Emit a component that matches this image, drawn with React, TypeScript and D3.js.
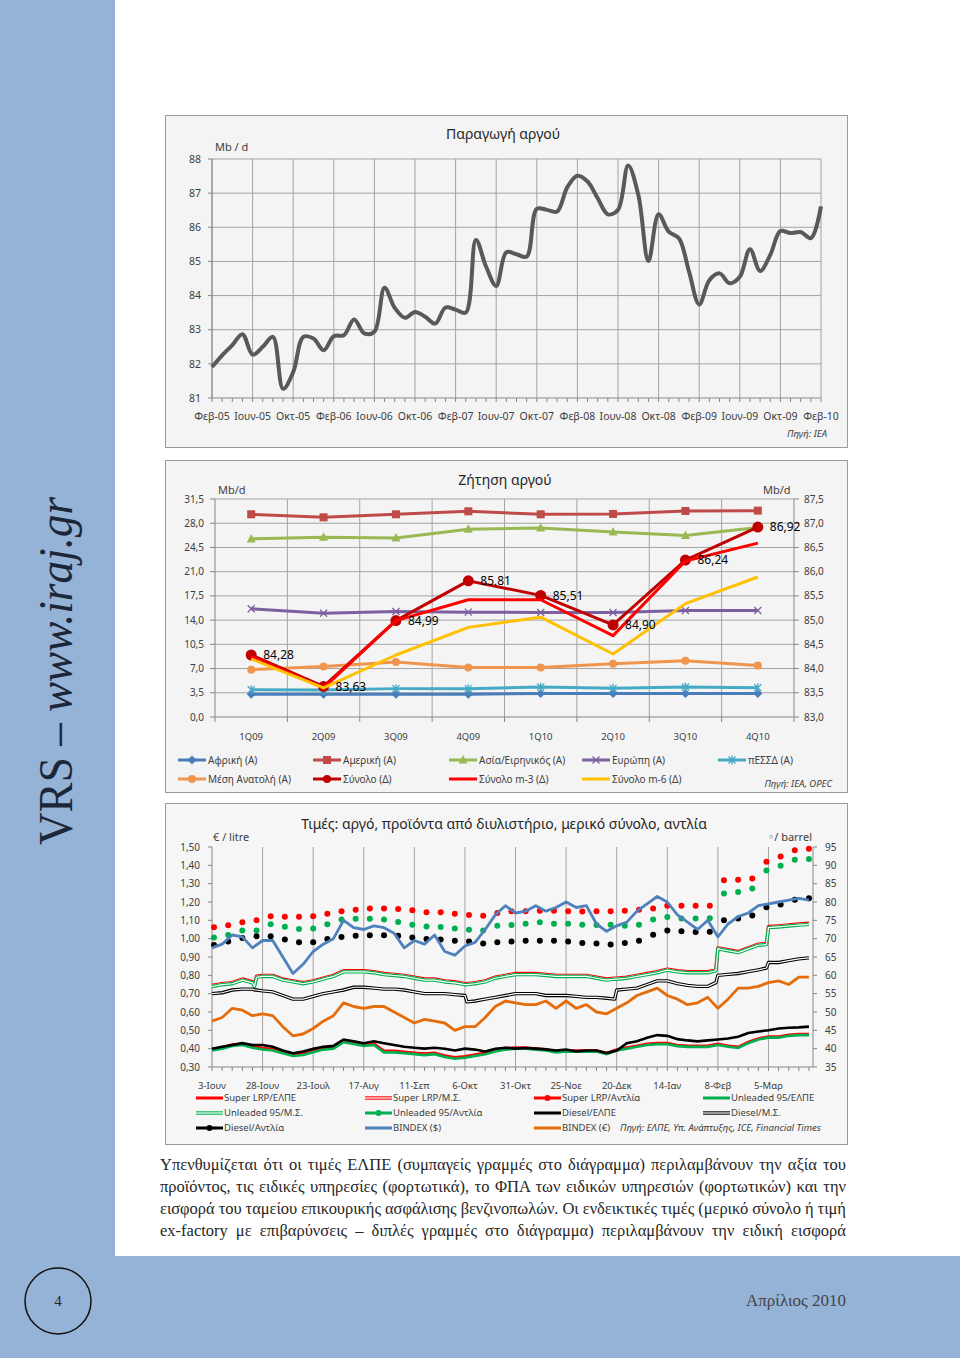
import { useLayoutEffect, useRef } from 'react';
import * as d3 from 'd3';

// ---------- Παραγωγή αργού (Mb/d, monthly Feb-05 .. Feb-10) ----------
const productionLabels = ['Φεβ-05', 'Ιουν-05', 'Οκτ-05', 'Φεβ-06', 'Ιουν-06', 'Οκτ-06', 'Φεβ-07', 'Ιουν-07', 'Οκτ-07', 'Φεβ-08', 'Ιουν-08', 'Οκτ-08', 'Φεβ-09', 'Ιουν-09', 'Οκτ-09', 'Φεβ-10'];
const production = [
  81.91, 82.25, 82.55, 82.87, 82.27, 82.5, 82.79, 81.27, 81.76, 82.79,
  82.74, 82.4, 82.81, 82.84, 83.3, 82.89, 82.94, 84.23, 83.64, 83.35,
  83.52, 83.38, 83.18, 83.65, 83.59, 83.5, 85.63, 84.85, 84.28, 85.27,
  85.21, 85.14, 86.54, 86.51, 86.46, 87.17, 87.51, 87.34, 86.85, 86.38,
  86.51, 87.81, 86.95, 85.01, 86.38, 85.87, 85.68, 84.7, 83.74, 84.45,
  84.65, 84.36, 84.55, 85.36, 84.72, 85.19, 85.89, 85.83, 85.86, 85.68,
  86.61,
];
const productionTicks = [81, 82, 83, 84, 85, 86, 87, 88];

// ---------- Ζήτηση αργού (Mb/d, quarterly) ----------
const quarters = ['1Q09', '2Q09', '3Q09', '4Q09', '1Q10', '2Q10', '3Q10', '4Q10'];
const africa = [3.3, 3.3, 3.3, 3.3, 3.4, 3.4, 3.4, 3.4];
const america = [29.29, 28.85, 29.29, 29.72, 29.29, 29.34, 29.77, 29.82];
const asia = [25.73, 25.97, 25.88, 27.12, 27.32, 26.74, 26.21, 27.37];
const europe = [15.63, 15.0, 15.25, 15.15, 15.1, 15.1, 15.39, 15.39];
const cis = [3.94, 3.9, 4.1, 4.1, 4.33, 4.14, 4.33, 4.23];
const middleEast = [6.83, 7.31, 7.94, 7.17, 7.17, 7.69, 8.13, 7.45];
const total = [84.28, 83.63, 84.99, 85.81, 85.51, 84.9, 86.24, 86.92];
const totalM3 = [84.25, 83.6, 84.99, 85.42, 85.42, 84.68, 86.22, 86.59];
const totalM6 = [84.2, 83.6, 84.28, 84.85, 85.06, 84.3, 85.34, 85.89];
const demandLeftTicks = [0, 3.5, 7, 10.5, 14, 17.5, 21, 24.5, 28, 31.5];
const demandRightTicks = [83, 83.5, 84, 84.5, 85, 85.5, 86, 86.5, 87, 87.5];

// ---------- Τιμές (days from 3 Jun 2009) ----------
const priceDateLabels = ['3-Ιουν', '28-Ιουν', '23-Ιουλ', '17-Αυγ', '11-Σεπ', '6-Οκτ', '31-Οκτ', '25-Νοε', '20-Δεκ', '14-Ιαν', '8-Φεβ', '5-Μαρ'];
const priceLabelDays = [0, 25, 50, 75, 100, 125, 150, 175, 200, 225, 250, 275];
const priceLeftTicks = [0.3, 0.4, 0.5, 0.6, 0.7, 0.8, 0.9, 1.0, 1.1, 1.2, 1.3, 1.4, 1.5];
const priceRightTicks = [35, 40, 45, 50, 55, 60, 65, 70, 75, 80, 85, 90, 95];

const lineDays = [
  0, 5, 10, 15, 20, 25, 30, 35, 40, 45, 50, 55, 60, 65, 70, 75, 80, 85, 90, 95,
  100, 105, 110, 115, 120, 125, 130, 135, 140, 145, 150, 155, 160, 165, 170, 175, 180, 185, 190, 195,
  200, 205, 210, 215, 220, 225, 230, 235, 240, 245, 250, 255, 260, 265, 270, 275, 280, 285, 290, 295,
];
const bindexUsd = [
  67.5, 68.5, 71, 70.5, 67.5, 69.5, 69.5, 65, 60.5, 63, 66.5, 68.5, 70, 75, 73, 72.5, 73.5, 73, 71.5, 67.5,
  69.5, 68.5, 71, 66.5, 65.5, 68, 69, 72.5, 76.5, 79, 77, 77.5, 79, 77.5, 78.5, 80, 78.5, 79, 74, 72,
  73.5, 74.5, 77.5, 79.5, 81.5, 80, 76.5, 74.5, 72.5, 75, 70.5, 74, 76, 77, 79, 79.5, 80, 80.5, 81, 80.5,
];
const bindexEur = [
  47.5, 48.5, 51, 50.5, 49, 49.5, 49, 46, 43.5, 44, 45.5, 47.5, 49, 52.5, 51.5, 51, 51.5, 51.5, 50, 48.5,
  47, 48, 47.5, 47, 45, 46, 46, 48.5, 51.5, 53, 52.5, 52, 52, 53, 51, 53, 51, 52, 50, 49.5,
  51, 52.5, 54.5, 55.5, 56.5, 54.5, 53.5, 52, 52.5, 54, 51, 53.5, 56.5, 56.5, 57, 58, 58.5, 57.5, 59.5, 59.5,
];
const dieselElpe = [
  0.4, 0.41, 0.42, 0.43, 0.42, 0.42, 0.41, 0.39, 0.375, 0.385, 0.4, 0.41, 0.415, 0.45, 0.44, 0.43, 0.44, 0.43, 0.42, 0.41,
  0.405, 0.4, 0.405, 0.4, 0.39, 0.4, 0.395, 0.385, 0.4, 0.405, 0.4, 0.404, 0.4, 0.396, 0.39, 0.395, 0.385, 0.39, 0.39, 0.376,
  0.39, 0.43, 0.44, 0.46, 0.474, 0.47, 0.452, 0.445, 0.44, 0.445, 0.45, 0.455, 0.465, 0.485, 0.494, 0.5, 0.51, 0.514, 0.516, 0.52,
];
const unleadedElpe = [
  0.39, 0.4, 0.415, 0.42, 0.405, 0.395, 0.39, 0.375, 0.36, 0.365, 0.38, 0.395, 0.4, 0.435, 0.425, 0.415, 0.42, 0.38, 0.38, 0.375,
  0.37, 0.365, 0.37, 0.355, 0.345, 0.35, 0.36, 0.37, 0.385, 0.395, 0.4, 0.4, 0.395, 0.39, 0.38, 0.385, 0.384, 0.384, 0.384, 0.37,
  0.39, 0.4, 0.41, 0.42, 0.424, 0.424, 0.414, 0.41, 0.41, 0.41, 0.42, 0.41, 0.404, 0.43, 0.45, 0.46, 0.46, 0.47, 0.474, 0.474,
];
const superElpe = [
  0.398, 0.408, 0.422, 0.428, 0.413, 0.403, 0.398, 0.383, 0.368, 0.373, 0.388, 0.403, 0.408, 0.443, 0.433, 0.423, 0.428, 0.388, 0.388, 0.383,
  0.378, 0.373, 0.378, 0.363, 0.353, 0.358, 0.368, 0.378, 0.393, 0.403, 0.406, 0.406, 0.401, 0.396, 0.386, 0.391, 0.39, 0.39, 0.39, 0.376,
  0.396, 0.406, 0.416, 0.426, 0.43, 0.43, 0.42, 0.416, 0.416, 0.416, 0.426, 0.416, 0.41, 0.436, 0.456, 0.466, 0.466, 0.476, 0.48, 0.48,
];

const msDays = [
  0, 5, 10, 15, 20, 21, 22, 25, 30, 35, 40, 45, 50, 55, 60, 65, 70, 75, 80, 85, 90, 95, 100, 105, 110, 115, 120, 125, 126,
  130, 135, 140, 145, 150, 155, 160, 165, 170, 175, 180, 185, 190, 195, 199, 200, 205, 210, 215, 220, 225, 230, 235, 240, 245,
  249, 250, 255, 260, 265, 270, 274, 275, 280, 285, 290, 295,
];
const superMs = [
  0.745, 0.755, 0.76, 0.78, 0.765, 0.745, 0.795, 0.8, 0.8, 0.78, 0.77, 0.76, 0.77, 0.785, 0.8, 0.825, 0.825, 0.825, 0.82, 0.81,
  0.805, 0.8, 0.79, 0.78, 0.78, 0.77, 0.765, 0.755, 0.755, 0.76, 0.77, 0.79, 0.8, 0.81, 0.81, 0.81, 0.805, 0.8, 0.8, 0.8,
  0.8, 0.79, 0.78, 0.785, 0.785, 0.79, 0.8, 0.81, 0.82, 0.834, 0.825, 0.82, 0.82, 0.82, 0.83, 0.95, 0.94, 0.93, 0.95, 0.97,
  0.974, 1.066, 1.07, 1.075, 1.08, 1.084,
];
const unleadedMs = [
  0.739, 0.749, 0.754, 0.774, 0.759, 0.739, 0.789, 0.794, 0.794, 0.774, 0.764, 0.754, 0.764, 0.779, 0.794, 0.819, 0.819, 0.819, 0.814, 0.804,
  0.799, 0.794, 0.784, 0.774, 0.774, 0.764, 0.759, 0.749, 0.749, 0.754, 0.764, 0.784, 0.794, 0.804, 0.804, 0.804, 0.799, 0.794, 0.794, 0.794,
  0.794, 0.784, 0.774, 0.779, 0.779, 0.784, 0.794, 0.804, 0.814, 0.828, 0.819, 0.814, 0.814, 0.814, 0.824, 0.944, 0.934, 0.924, 0.944, 0.964,
  0.968, 1.06, 1.064, 1.069, 1.074, 1.078,
];
const dieselMs = [
  0.7, 0.705, 0.72, 0.725, 0.725, 0.72, 0.72, 0.715, 0.71, 0.69, 0.67, 0.67, 0.685, 0.7, 0.71, 0.72, 0.735, 0.735, 0.73, 0.725,
  0.725, 0.72, 0.71, 0.7, 0.7, 0.7, 0.695, 0.69, 0.655, 0.66, 0.67, 0.68, 0.69, 0.7, 0.7, 0.7, 0.69, 0.69, 0.69, 0.685,
  0.68, 0.68, 0.675, 0.67, 0.72, 0.725, 0.73, 0.75, 0.77, 0.77, 0.755, 0.745, 0.74, 0.74, 0.76, 0.8, 0.805, 0.81, 0.82, 0.83,
  0.84, 0.87, 0.87, 0.88, 0.89, 0.895,
];

const pumpDays = [
  1, 8, 15, 22, 29, 36, 43, 50, 57, 64, 71, 78, 85, 92, 99, 106, 113, 120, 127, 134, 141,
  148, 155, 162, 169, 176, 183, 190, 197, 204, 211, 218, 225, 232, 239, 246, 253, 260, 267, 274, 281, 288, 295,
];
const superPump = [
  1.062, 1.073, 1.09, 1.1, 1.122, 1.12, 1.12, 1.122, 1.136, 1.149, 1.158, 1.164, 1.164, 1.162, 1.155, 1.144, 1.144, 1.136, 1.129, 1.125, 1.14,
  1.15, 1.15, 1.152, 1.152, 1.15, 1.148, 1.15, 1.15, 1.152, 1.158, 1.164, 1.18, 1.18, 1.18, 1.18, 1.318, 1.322, 1.328, 1.42, 1.448, 1.482, 1.49,
];
const unleadedPump = [
  1.007, 1.02, 1.045, 1.045, 1.078, 1.065, 1.053, 1.055, 1.078, 1.104, 1.109, 1.109, 1.104, 1.091, 1.076, 1.067, 1.064, 1.055, 1.049, 1.045, 1.071,
  1.074, 1.082, 1.09, 1.082, 1.082, 1.076, 1.074, 1.076, 1.07, 1.076, 1.104, 1.118, 1.11, 1.11, 1.112, 1.246, 1.254, 1.274, 1.372, 1.398, 1.43, 1.434,
];
const dieselPump = [
  0.965, 0.985, 1.004, 1.013, 1.013, 0.995, 0.98, 0.98, 0.998, 1.009, 1.016, 1.018, 1.018, 1.016, 1.007, 0.998, 0.995, 0.989, 0.985, 0.973, 0.98,
  0.984, 0.988, 0.988, 0.988, 0.984, 0.976, 0.973, 0.968, 0.976, 0.988, 1.022, 1.044, 1.04, 1.036, 1.038, 1.1, 1.11, 1.126, 1.172, 1.186, 1.212, 1.22,
];

const paragraph = [
  'Υπενθυμίζεται ότι οι τιμές ΕΛΠΕ (συμπαγείς γραμμές στο διάγραμμα) περιλαμβάνουν την αξία του',
  'προϊόντος, τις ειδικές υπηρεσίες (φορτωτικά), το ΦΠΑ των ειδικών υπηρεσιών (φορτωτικών) και την',
  'εισφορά του ταμείου επικουρικής ασφάλισης βενζινοπωλών. Οι ενδεικτικές τιμές (μερικό σύνολο ή τιμή',
  'ex-factory με επιβαρύνσεις – διπλές γραμμές στο διάγραμμα) περιλαμβάνουν την ειδική εισφορά',
];

const FONT = "'Noto Sans', 'DejaVu Sans', sans-serif";
const SERIF = "'Liberation Serif', 'DejaVu Serif', serif";
const GRID = '#a3a3a3';
const AXIS = '#868686';
const TXT = '#404040';
const comma = (v: number, d: number) => v.toFixed(d).replace('.', ',');

function ProductionChart() {
  const x = d3.scaleLinear().domain([0, production.length - 1]).range([212, 821]);
  const y = d3.scaleLinear().domain([81, 88]).range([398, 159]);
  const line = d3
    .line<number>()
    .x((_, i) => x(i))
    .y(d => y(d))
    .curve(d3.curveCatmullRom.alpha(0.5));
  return (
    <g fontFamily={FONT}>
      <rect x={165.5} y={115.5} width={682} height={332} fill="#f4f4f4" stroke="#9a9a9a" />
      {productionTicks.slice(1).map(t => (
        <line key={t} x1={x(0)} x2={x(60)} y1={y(t)} y2={y(t)} stroke={GRID} />
      ))}
      {productionLabels.map((l, i) => (
        <line key={l} x1={x(i * 4)} x2={x(i * 4)} y1={y(88)} y2={y(81)} stroke={GRID} />
      ))}
      <line x1={x(0)} x2={x(60)} y1={y(81)} y2={y(81)} stroke={AXIS} />
      <line x1={x(0)} x2={x(0)} y1={y(88)} y2={y(81)} stroke={AXIS} />
      {production.map((_, i) => (
        <line key={i} x1={x(i)} x2={x(i)} y1={y(81)} y2={y(81) + 4} stroke={AXIS} />
      ))}
      {productionTicks.map(t => (
        <g key={t}>
          <line x1={x(0) - 4} x2={x(0)} y1={y(t)} y2={y(t)} stroke={AXIS} />
          <text x={201} y={y(t)} dy="0.35em" textAnchor="end" fontSize={10.5} fill={TXT}>{t}</text>
        </g>
      ))}
      {productionLabels.map((l, i) => (
        <text key={l} x={x(i * 4)} y={420} textAnchor="middle" fontSize={10.5} fill={TXT}>{l}</text>
      ))}
      <path d={line(production) ?? ''} fill="none" stroke="#595959" strokeWidth={4} strokeLinejoin="round" />
      <text x={503} y={139} textAnchor="middle" fontSize={14} fill="#262626">Παραγωγή αργού</text>
      <text x={215} y={151} fontSize={11} fill={TXT}>Mb / d</text>
      <text x={827} y={437} textAnchor="end" fontSize={9.5} fontStyle="italic" fill={TXT}>Πηγή: IEA</text>
    </g>
  );
}

type MarkerKind = 'diamond' | 'square' | 'triangle' | 'x' | 'star' | 'circle' | 'bigcircle' | 'none';

function Marker({ kind, cx, cy, color }: { kind: MarkerKind; cx: number; cy: number; color: string }) {
  if (kind === 'diamond') return <path d={`M${cx},${cy - 4.5}L${cx + 4.5},${cy}L${cx},${cy + 4.5}L${cx - 4.5},${cy}Z`} fill={color} />;
  if (kind === 'square') return <rect x={cx - 4} y={cy - 4} width={8} height={8} fill={color} />;
  if (kind === 'triangle') return <path d={`M${cx},${cy - 5}L${cx + 4.5},${cy + 3.5}L${cx - 4.5},${cy + 3.5}Z`} fill={color} />;
  if (kind === 'x')
    return <path d={`M${cx - 3.5},${cy - 3.5}L${cx + 3.5},${cy + 3.5}M${cx + 3.5},${cy - 3.5}L${cx - 3.5},${cy + 3.5}`} stroke={color} strokeWidth={1.3} />;
  if (kind === 'star')
    return (
      <path
        d={`M${cx - 3.5},${cy - 3.5}L${cx + 3.5},${cy + 3.5}M${cx + 3.5},${cy - 3.5}L${cx - 3.5},${cy + 3.5}M${cx},${cy - 4.5}L${cx},${cy + 4.5}`}
        stroke={color}
        strokeWidth={1.3}
      />
    );
  if (kind === 'circle') return <circle cx={cx} cy={cy} r={4} fill={color} />;
  if (kind === 'bigcircle') return <circle cx={cx} cy={cy} r={5.5} fill={color} />;
  return null;
}

function DemandChart() {
  const x = d3.scaleBand().domain(quarters).range([215, 794]);
  const cx = (q: string) => (x(q) ?? 0) + x.bandwidth() / 2;
  const yL = d3.scaleLinear().domain([0, 31.5]).range([717, 499]);
  const yR = d3.scaleLinear().domain([83, 87.5]).range([717, 499]);
  const series: { name: string; values: number[]; color: string; marker: MarkerKind; right: boolean; width: number }[] = [
    { name: 'Αφρική (Α)', values: africa, color: '#4a7ebb', marker: 'diamond', right: false, width: 3 },
    { name: 'Αμερική (Α)', values: america, color: '#be4b48', marker: 'square', right: false, width: 3 },
    { name: 'Ασία/Ειρηνικός (Α)', values: asia, color: '#98b954', marker: 'triangle', right: false, width: 3 },
    { name: 'Ευρώπη (Α)', values: europe, color: '#7d60a0', marker: 'x', right: false, width: 3 },
    { name: 'πΕΣΣΔ (Α)', values: cis, color: '#46aac5', marker: 'star', right: false, width: 3 },
    { name: 'Μέση Ανατολή (Α)', values: middleEast, color: '#f0954d', marker: 'circle', right: false, width: 3 },
    { name: 'Σύνολο (Δ)', values: total, color: '#c00000', marker: 'bigcircle', right: true, width: 3 },
    { name: 'Σύνολο m-3 (Δ)', values: totalM3, color: '#ff0000', marker: 'none', right: true, width: 3 },
    { name: 'Σύνολο m-6 (Δ)', values: totalM6, color: '#ffc000', marker: 'none', right: true, width: 3 },
  ];
  const legendPos = [
    [178, 760], [313, 760], [449, 760], [582, 760], [718, 760],
    [178, 779], [313, 779], [449, 779], [582, 779],
  ];
  return (
    <g fontFamily={FONT}>
      <rect x={165.5} y={460.5} width={682} height={332} fill="#f4f4f4" stroke="#9a9a9a" />
      {demandLeftTicks.slice(1).map(t => (
        <line key={t} x1={215} x2={794} y1={yL(t)} y2={yL(t)} stroke={GRID} />
      ))}
      {quarters.slice(1).map(q => (
        <line key={q} x1={x(q)} x2={x(q)} y1={499} y2={717} stroke={GRID} />
      ))}
      <line x1={215} x2={794} y1={717} y2={717} stroke={AXIS} />
      <line x1={215} x2={215} y1={499} y2={717} stroke={AXIS} />
      <line x1={794} x2={794} y1={499} y2={717} stroke={AXIS} />
      {quarters.map(q => (
        <line key={q} x1={x(q)} x2={x(q)} y1={717} y2={722} stroke={AXIS} />
      ))}
      <line x1={794} x2={794} y1={717} y2={722} stroke={AXIS} />
      {demandLeftTicks.map(t => (
        <g key={t}>
          <line x1={210} x2={215} y1={yL(t)} y2={yL(t)} stroke={AXIS} />
          <text x={204} y={yL(t)} dy="0.35em" textAnchor="end" fontSize={10} fill={TXT}>{comma(t, 1)}</text>
        </g>
      ))}
      {demandRightTicks.map(t => (
        <g key={t}>
          <line x1={794} x2={799} y1={yR(t)} y2={yR(t)} stroke={AXIS} />
          <text x={804} y={yR(t)} dy="0.35em" fontSize={10} fill={TXT}>{comma(t, 1)}</text>
        </g>
      ))}
      {quarters.map(q => (
        <text key={q} x={cx(q)} y={740} textAnchor="middle" fontSize={9.5} fill={TXT}>{q}</text>
      ))}
      {series.map(s => {
        const y = s.right ? yR : yL;
        const line = d3
          .line<number>()
          .x((_, i) => cx(quarters[i]))
          .y(d => y(d));
        return (
          <g key={s.name}>
            <path d={line(s.values) ?? ''} fill="none" stroke={s.color} strokeWidth={s.width} strokeLinejoin="round" />
            {s.values.map((v, i) => (
              <Marker key={i} kind={s.marker} cx={cx(quarters[i])} cy={y(v)} color={s.color} />
            ))}
          </g>
        );
      })}
      {total.map((v, i) => (
        <text key={i} x={cx(quarters[i]) + 12} y={yR(v)} dy="0.35em" fontSize={12} fill="#000">{comma(v, 2)}</text>
      ))}
      {series.map((s, i) => {
        const [lx, ly] = legendPos[i];
        return (
          <g key={s.name}>
            <line x1={lx} x2={lx + 28} y1={ly} y2={ly} stroke={s.color} strokeWidth={3} />
            <Marker kind={s.marker === 'bigcircle' ? 'circle' : s.marker} cx={lx + 14} cy={ly} color={s.color} />
            <text x={lx + 30} y={ly} dy="0.35em" fontSize={10} fill={TXT}>{s.name}</text>
          </g>
        );
      })}
      <text x={505} y={485} textAnchor="middle" fontSize={14} fill="#262626">Ζήτηση αργού</text>
      <text x={218} y={494} fontSize={11} fill={TXT}>Mb/d</text>
      <text x={763} y={494} fontSize={11} fill={TXT}>Mb/d</text>
      <text x={832} y={787} textAnchor="end" fontSize={9.5} fontStyle="italic" fill={TXT}>Πηγή: IEA, OPEC</text>
    </g>
  );
}

function PriceChart() {
  const x = d3.scaleLinear().domain([0, 297]).range([212, 813]);
  const yL = d3.scaleLinear().domain([0.3, 1.5]).range([1067, 847]);
  const yR = d3.scaleLinear().domain([35, 95]).range([1067, 847]);
  const mk = (days: number[], y: d3.ScaleLinear<number, number>) =>
    d3
      .line<number>()
      .x((_, i) => x(days[i]))
      .y(d => y(d));
  const daily = mk(lineDays, yL);
  const ms = mk(msDays, yL);
  const bindex = mk(lineDays, yR);
  const minorTicks = d3.range(0, 297, 5);
  const legend: { name: string; color: string; kind: 'solid' | 'double' | 'dot' }[] = [
    { name: 'Super LRP/ΕΛΠΕ', color: '#ff0000', kind: 'solid' },
    { name: 'Super LRP/Μ.Σ.', color: '#ff0000', kind: 'double' },
    { name: 'Super LRP/Αντλία', color: '#ff0000', kind: 'dot' },
    { name: 'Unleaded 95/ΕΛΠΕ', color: '#00b050', kind: 'solid' },
    { name: 'Unleaded 95/Μ.Σ.', color: '#00b050', kind: 'double' },
    { name: 'Unleaded 95/Αντλία', color: '#00b050', kind: 'dot' },
    { name: 'Diesel/ΕΛΠΕ', color: '#000000', kind: 'solid' },
    { name: 'Diesel/Μ.Σ.', color: '#000000', kind: 'double' },
    { name: 'Diesel/Αντλία', color: '#000000', kind: 'dot' },
    { name: 'BINDEX ($)', color: '#4f81bd', kind: 'solid' },
    { name: 'BINDEX (€)', color: '#e46c0a', kind: 'solid' },
  ];
  const legendX = [196, 365, 534, 703];
  const legendY = [1098, 1113, 1128];
  const doubleLine = (d: string, color: string, key: string) => (
    <g key={key}>
      <path d={d} fill="none" stroke={color} strokeWidth={3.4} strokeLinejoin="round" />
      <path d={d} fill="none" stroke="#ffffff" strokeWidth={1.2} strokeLinejoin="round" />
    </g>
  );
  return (
    <g fontFamily={FONT}>
      <rect x={165.5} y={803.5} width={682} height={341} fill="#f6f6f6" stroke="#9a9a9a" />
      {priceLabelDays.slice(1).map(d => (
        <line key={d} x1={x(d)} x2={x(d)} y1={847} y2={1067} stroke={GRID} />
      ))}
      <line x1={212} x2={813} y1={1067} y2={1067} stroke={AXIS} />
      <line x1={212} x2={212} y1={847} y2={1067} stroke={AXIS} />
      <line x1={813} x2={813} y1={847} y2={1067} stroke={AXIS} />
      {minorTicks.map(d => (
        <line key={d} x1={x(d)} x2={x(d)} y1={1067} y2={1071} stroke={AXIS} />
      ))}
      {priceLeftTicks.map(t => (
        <g key={t}>
          <line x1={208} x2={212} y1={yL(t)} y2={yL(t)} stroke={AXIS} />
          <text x={200} y={yL(t)} dy="0.35em" textAnchor="end" fontSize={10} fill={TXT}>{comma(t, 2)}</text>
        </g>
      ))}
      {priceRightTicks.map(t => (
        <g key={t}>
          <line x1={813} x2={817} y1={yR(t)} y2={yR(t)} stroke={AXIS} />
          <text x={825} y={yR(t)} dy="0.35em" fontSize={10} fill={TXT}>{t}</text>
        </g>
      ))}
      {priceDateLabels.map((l, i) => (
        <text key={l} x={x(priceLabelDays[i])} y={1089} textAnchor="middle" fontSize={9.5} fill={TXT}>{l}</text>
      ))}

      <path d={daily(superElpe) ?? ''} fill="none" stroke="#ff0000" strokeWidth={2.6} />
      {doubleLine(ms(superMs) ?? '', '#ff0000', 'sms')}
      {superPump.map((v, i) => (
        <circle key={'sp' + i} cx={x(pumpDays[i])} cy={yL(v)} r={3} fill="#ff0000" />
      ))}
      <path d={daily(unleadedElpe) ?? ''} fill="none" stroke="#00b050" strokeWidth={2.6} />
      {doubleLine(ms(unleadedMs) ?? '', '#00b050', 'ums')}
      {unleadedPump.map((v, i) => (
        <circle key={'up' + i} cx={x(pumpDays[i])} cy={yL(v)} r={3} fill="#00b050" />
      ))}
      <path d={daily(dieselElpe) ?? ''} fill="none" stroke="#000000" strokeWidth={2.6} />
      {doubleLine(ms(dieselMs) ?? '', '#000000', 'dms')}
      {dieselPump.map((v, i) => (
        <circle key={'dp' + i} cx={x(pumpDays[i])} cy={yL(v)} r={3} fill="#000000" />
      ))}
      <path d={bindex(bindexUsd) ?? ''} fill="none" stroke="#4f81bd" strokeWidth={2.8} strokeLinejoin="round" />
      <path d={bindex(bindexEur) ?? ''} fill="none" stroke="#e46c0a" strokeWidth={2.8} strokeLinejoin="round" />

      {legend.map((s, i) => {
        const lx = legendX[i % 4];
        const ly = legendY[Math.floor(i / 4)];
        return (
          <g key={s.name}>
            {s.kind === 'double' ? (
              doubleLine(`M${lx},${ly}H${lx + 27}`, s.color, 'l' + i)
            ) : (
              <line x1={lx} x2={lx + 27} y1={ly} y2={ly} stroke={s.color} strokeWidth={3} />
            )}
            {s.kind === 'dot' && <circle cx={lx + 13.5} cy={ly} r={3} fill={s.color} />}
            <text x={lx + 28} y={ly} dy="0.35em" fontSize={9.5} fill={TXT}>{s.name}</text>
          </g>
        );
      })}
      <text x={620} y={1128} dy="0.35em" fontSize={9.5} fontStyle="italic" fill={TXT}>
        Πηγή: ΕΛΠΕ, Υπ. Ανάπτυξης, ICE, Financial Times
      </text>
      <text x={504} y={829} textAnchor="middle" fontSize={14} fill="#262626">
        Τιμές: αργό, προϊόντα από διυλιστήριο, μερικό σύνολο, αντλία
      </text>
      <text x={213} y={841} fontSize={11} fill={TXT}>€ / litre</text>
      <text x={812} y={841} textAnchor="end" fontSize={11} fill={TXT}>◦/ barrel</text>
    </g>
  );
}

// justified paragraph: spread the spare width over the word gaps
function Paragraph() {
  const refs = useRef<(SVGTextElement | null)[]>([]);
  const width = 686;
  useLayoutEffect(() => {
    refs.current.forEach((el, i) => {
      if (!el) return;
      el.style.wordSpacing = '0px';
      const len = el.getComputedTextLength();
      const gaps = paragraph[i].split(' ').length - 1;
      if (len < width && gaps > 0) {
        el.style.wordSpacing = `${(width - len) / gaps}px`;
      } else if (len > width) {
        el.setAttribute('textLength', String(width));
      }
    });
  }, []);
  return (
    <g fontFamily={SERIF} fontSize={16.5} fill="#262626">
      {paragraph.map((l, i) => (
        <text key={i} ref={el => { refs.current[i] = el; }} x={160} y={1170 + i * 22}>
          {l}
        </text>
      ))}
    </g>
  );
}

export default function App() {
  return (
    <svg
      width={960}
      height={1358}
      viewBox="0 0 960 1358"
      style={{ position: 'absolute', left: 0, top: 0, display: 'block' }}
    >
      <rect x={0} y={0} width={960} height={1358} fill="#95b3d7" />
      <rect x={115} y={0} width={845} height={1256} fill="#ffffff" />
      <text
        transform="translate(72,845) rotate(-90)"
        fontFamily={SERIF}
        fontSize={48}
        fill="#1b2738"
        textLength={348}
        lengthAdjust="spacingAndGlyphs"
      >
        VRS – <tspan fontStyle="italic">www.iraj.gr</tspan>
      </text>
      <ProductionChart />
      <DemandChart />
      <PriceChart />
      <Paragraph />
      <circle cx={58} cy={1301} r={33} fill="none" stroke="#111" strokeWidth={1.5} />
      <text x={58} y={1301} dy="0.35em" textAnchor="middle" fontFamily={SERIF} fontSize={15} fill="#222">4</text>
      <text x={846} y={1306} textAnchor="end" fontFamily={SERIF} fontSize={17} fill="#444">Απρίλιος 2010</text>
    </svg>
  );
}
